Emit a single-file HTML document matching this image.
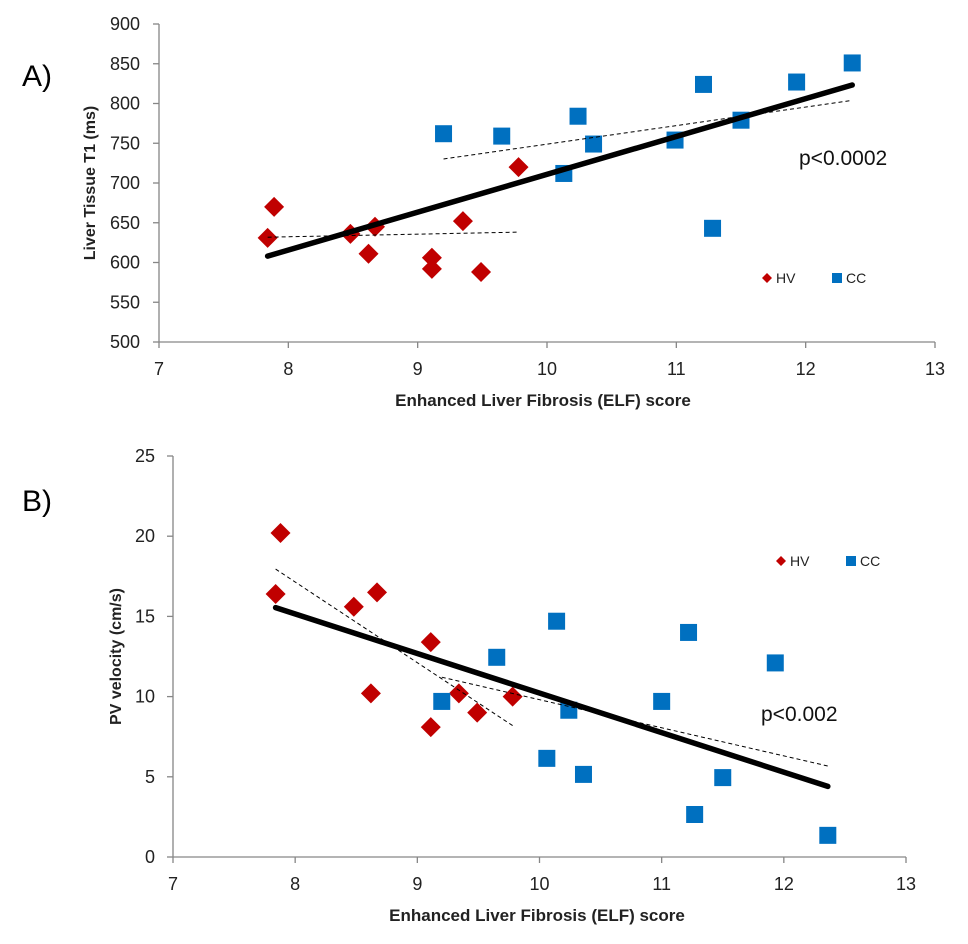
<!DOCTYPE html>
<html><head><meta charset="utf-8"><style>
body{margin:0;background:#fff}
svg text{font-family:"Liberation Sans",sans-serif}
</style></head><body>
<svg id="c" width="968" height="939" xmlns="http://www.w3.org/2000/svg">
<text x="22" y="86" font-size="30">A)</text>
<text x="22" y="511" font-size="30">B)</text>
</svg>
<script>
// Panel A data
const aXTicks=[7,8,9,10,11,12,13];
const aYTicks=[500,550,600,650,700,750,800,850,900];
const aHvX=[7.84,7.89,8.48,8.62,8.67,9.11,9.11,9.35,9.49,9.78];
const aHvY=[631,670,636,611,645,606,592,652,588,720];
const aCcX=[9.20,9.65,10.13,10.24,10.36,10.99,11.21,11.28,11.50,11.93,12.36];
const aCcY=[762,759,712,784,749,754,824,643,779,827,851];
// Panel B data
const bXTicks=[7,8,9,10,11,12,13];
const bYTicks=[0,5,10,15,20,25];
const bHvX=[7.88,7.84,8.48,8.67,8.62,9.11,9.11,9.34,9.49,9.78];
const bHvY=[20.2,16.4,15.6,16.5,10.2,13.4,8.1,10.2,9.0,10.0];
const bCcX=[9.20,9.65,10.06,10.14,10.24,10.36,11.0,11.22,11.27,11.50,11.93,12.36];
const bCcY=[9.7,12.45,6.15,14.7,9.15,5.15,9.7,14.0,2.65,4.95,12.1,1.35];

const NS="http://www.w3.org/2000/svg";
const svg=document.getElementById('c');
function mk(tag,attrs,parent){const e=document.createElementNS(NS,tag);for(const k in attrs)e.setAttribute(k,attrs[k]);(parent||svg).appendChild(e);return e;}
function fit(xs,ys){const n=xs.length;let sx=0,sy=0,sxx=0,sxy=0;for(let i=0;i<n;i++){sx+=xs[i];sy+=ys[i];sxx+=xs[i]*xs[i];sxy+=xs[i]*ys[i];}const m=(n*sxy-sx*sy)/(n*sxx-sx*sx);return{m:m,b:(sy-m*sx)/n,x0:Math.min(...xs),x1:Math.max(...xs)};}

function panel(cfg){
  const g=mk('g',{});
  
  
  const X=v=>cfg.x0+(v-cfg.xt[0])*(cfg.x1-cfg.x0)/(cfg.xt[cfg.xt.length-1]-cfg.xt[0]);
  const Y=v=>cfg.y0-(v-cfg.yt[0])*(cfg.y0-cfg.y1)/(cfg.yt[cfg.yt.length-1]-cfg.yt[0]);
  const ax=mk('path',{d:`M${cfg.x0},${cfg.y1}V${cfg.y0}H${cfg.x1}`,stroke:'#868686','stroke-width':1.3,fill:'none'},g);
  
  
  cfg.yt.forEach(v=>{
    mk('line',{x1:cfg.x0-6,x2:cfg.x0,y1:Y(v),y2:Y(v),stroke:'#868686','stroke-width':1.3},g);
    const t=mk('text',{x:cfg.ylx,y:Y(v)+6,'text-anchor':'end','font-size':18,fill:'#222'},g);
    t.textContent=v;
    
    
  });
  cfg.xt.forEach(v=>{
    mk('line',{x1:X(v),x2:X(v),y1:cfg.y0,y2:cfg.y0+6,stroke:'#868686','stroke-width':1.3},g);
    const t=mk('text',{x:X(v),y:cfg.y0+33,'text-anchor':'middle','font-size':18,fill:'#222'},g);
    t.textContent=v;
    
    
  });
  const xt=mk('text',{x:cfg.xtc,y:cfg.y0+64,'text-anchor':'middle','font-size':17,'font-weight':'bold',fill:'#222'},g);
  xt.textContent='Enhanced Liver Fibrosis (ELF) score';
  
  
  const yt=mk('text',{x:0,y:0,'text-anchor':'middle','font-size':16,'font-weight':'bold',fill:'#222',transform:`translate(${cfg.ytx},${(cfg.y0+cfg.y1)/2}) rotate(-90)`},g);
  yt.textContent=cfg.ytitle;
  
  
  cfg.hvx.forEach((v,i)=>{
    const cx=X(v),cy=Y(cfg.hvy[i]);
    const p=mk('path',{d:`M${cx},${cy-10}L${cx+10},${cy}L${cx},${cy+10}L${cx-10},${cy}Z`,fill:'#c00000'},g);
    
    
  });
  cfg.ccx.forEach((v,i)=>{
    const cx=X(v),cy=Y(cfg.ccy[i]);
    const r=mk('rect',{x:cx-8.5,y:cy-8.5,width:17,height:17,fill:'#0070c0'},g);
    
    
  });
  const fh=fit(cfg.hvx,cfg.hvy), fc=fit(cfg.ccx,cfg.ccy), fa=fit(cfg.hvx.concat(cfg.ccx),cfg.hvy.concat(cfg.ccy));
  [[fh,'hv-trendline'],[fc,'cc-trendline']].forEach(([f,n])=>{
    const l=mk('line',{x1:X(f.x0),y1:Y(f.m*f.x0+f.b),x2:X(f.x1),y2:Y(f.m*f.x1+f.b),stroke:'#000','stroke-width':1,'stroke-dasharray':'4,3'},g);
    
    
  });
  const l=mk('line',{x1:X(fa.x0),y1:Y(fa.m*fa.x0+fa.b),x2:X(fa.x1),y2:Y(fa.m*fa.x1+fa.b),stroke:'#000','stroke-width':5.5,'stroke-linecap':'round'},g);
  
  
  const pv=mk('text',{x:cfg.px,y:cfg.py,'font-size':21,fill:'#111'},g);
  pv.textContent=cfg.ptext;
  
  
  const lx=cfg.lx,ly=cfg.ly;
  const lg=mk('g',{},g);
  
  
  mk('path',{d:`M${lx},${ly-5}L${lx+5},${ly}L${lx},${ly+5}L${lx-5},${ly}Z`,fill:'#c00000'},lg);
  const t1=mk('text',{x:lx+9,y:ly+5,'font-size':14,fill:'#222'},lg);t1.textContent='HV';
  
  
  mk('rect',{x:lx+65,y:ly-5,width:10,height:10,fill:'#0070c0'},lg);
  const t2=mk('text',{x:lx+79,y:ly+5,'font-size':14,fill:'#222'},lg);t2.textContent='CC';
  
  
}
panel({name:'chart-a',x0:159,x1:935,y0:342,y1:24,xt:aXTicks,yt:aYTicks,ylx:140,ytx:95,xtc:543,ytitle:'Liver Tissue T1 (ms)',
  hvx:aHvX,hvy:aHvY,ccx:aCcX,ccy:aCcY,px:799,py:165,ptext:'p<0.0002',lx:767,ly:278});
panel({name:'chart-b',x0:173,x1:906,y0:857,y1:456,xt:bXTicks,yt:bYTicks,ylx:155,ytx:121,xtc:537,ytitle:'PV velocity (cm/s)',
  hvx:bHvX,hvy:bHvY,ccx:bCcX,ccy:bCcY,px:761,py:721,ptext:'p<0.002',lx:781,ly:561});
</script>
</body></html>
